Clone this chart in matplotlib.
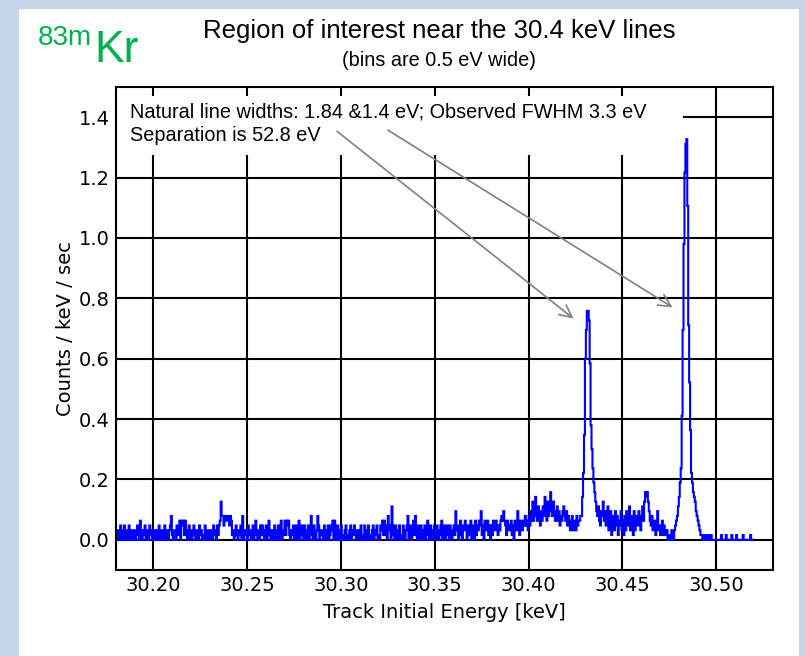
import numpy as np
import matplotlib
matplotlib.use("Agg")
import matplotlib.pyplot as plt
from matplotlib.patches import Rectangle

# histogram of track energies: counts per 0.5 eV bin starting at 30.180 keV
bin_start = 30.180
bin_width = 0.0005          # keV
rate_per_count = 0.0158     # counts/keV/sec for one count in a bin

counts = [
    1, 0, 2, 1, 0, 3, 1, 0, 2, 3, 0, 1, 2, 0, 3, 1, 0, 2, 1, 0,
    2, 0, 1, 3, 1, 0, 4, 1, 0, 2, 1, 3, 0, 1, 2, 0, 3, 1, 2, 0,
    1, 0, 2, 1, 0, 2, 3, 0, 1, 2, 0, 1, 3, 0, 2, 1, 0, 2, 3, 5,
    1, 0, 2, 1, 0, 3, 1, 2, 4, 0, 4, 3, 4, 1, 4, 2, 0, 1, 3, 0,
    2, 0, 1, 3, 1, 0, 2, 1, 0, 3, 1, 2, 0, 1, 0, 3, 1, 0, 2, 1,
    0, 2, 1, 0, 3, 1, 2, 0, 3, 1, 3, 4, 8, 5, 5, 3, 5, 5, 4, 5,
    5, 3, 5, 4, 1, 2, 0, 1, 3, 1, 0, 2, 1, 3, 0, 5, 0, 1, 2, 1,
    0, 3, 1, 2, 0, 1, 3, 0, 2, 4, 1, 0, 2, 0, 3, 1, 3, 1, 0, 2,
    3, 0, 1, 4, 1, 0, 2, 1, 0, 3, 2, 0, 1, 3, 0, 1, 4, 0, 2, 1,
    4, 1, 4, 3, 4, 1, 0, 2, 1, 3, 0, 1, 3, 0, 2, 4, 0, 1, 3, 1,
    0, 3, 1, 0, 2, 3, 0, 1, 5, 2, 0, 3, 1, 0, 2, 5, 3, 0, 1, 2,
    1, 0, 3, 1, 0, 2, 3, 0, 1, 3, 2, 4, 0, 4, 1, 0, 3, 1, 0, 2,
    3, 0, 1, 0, 2, 3, 0, 1, 0, 2, 3, 0, 2, 1, 3, 1, 0, 2, 1, 0,
    2, 3, 0, 1, 0, 3, 1, 0, 2, 3, 0, 1, 0, 2, 3, 0, 1, 2, 3, 0,
    1, 0, 3, 2, 4, 1, 4, 3, 1, 0, 5, 2, 3, 0, 7, 3, 1, 0, 3, 1,
    0, 2, 3, 0, 1, 0, 3, 1, 0, 2, 3, 5, 0, 1, 3, 0, 2, 4, 1, 5,
    1, 0, 3, 2, 0, 3, 1, 0, 2, 3, 0, 1, 4, 2, 0, 3, 1, 0, 2, 3,
    1, 0, 3, 2, 0, 1, 3, 4, 0, 2, 3, 0, 1, 3, 2, 0, 3, 1, 0, 2,
    3, 1, 6, 2, 3, 0, 2, 4, 1, 0, 3, 2, 4, 3, 0, 2, 3, 1, 4, 0,
    2, 3, 0, 4, 1, 3, 2, 4, 3, 6, 1, 3, 0, 4, 2, 3, 4, 1, 3, 0,
    3, 1, 4, 3, 2, 4, 3, 1, 3, 2, 4, 5, 4, 6, 4, 3, 1, 4, 3, 2,
    3, 4, 1, 3, 0, 4, 3, 2, 6, 3, 1, 4, 3, 2, 4, 3, 5, 3, 4, 2,
    5, 3, 6, 4, 8, 4, 5, 9, 6, 4, 7, 5, 3, 6, 4, 7, 5, 9, 6, 4,
    8, 5, 7, 10, 6, 5, 8, 6, 4, 5, 7, 4, 6, 3, 5, 4, 6, 7, 5, 4,
    6, 3, 5, 4, 2, 3, 5, 2, 4, 3, 2, 5, 3, 4, 4, 5, 5, 9, 14, 22,
    38, 44, 48, 48, 46, 37, 24, 19, 15, 12, 10, 8, 6, 5, 7, 4, 3, 6, 5, 8,
    4, 6, 3, 5, 7, 2, 4, 6, 1, 5, 4, 2, 6, 3, 5, 1, 4, 3, 6, 2,
    4, 1, 5, 2, 6, 4, 3, 7, 2, 4, 5, 1, 6, 2, 4, 5, 3, 6, 4, 2,
    5, 7, 4, 8, 10, 9, 10, 8, 6, 4, 3, 5, 2, 4, 3, 1, 4, 6, 2, 3,
    1, 2, 4, 1, 3, 2, 1, 2, 0, 1, 1, 0, 2, 1, 0, 2, 3, 4, 5, 7,
    9, 12, 15, 26, 44, 62, 77, 83, 84, 70, 45, 33, 23, 14, 12, 10, 9, 8, 6, 5,
    4, 3, 2, 1, 1, 0, 1, 1, 0, 1, 0, 1, 1, 0, 1, 0, 0, 0, 0, 0,
    0, 0, 0, 0, 0, 1, 0, 0, 0, 0, 1, 0, 0, 0, 0, 0, 1, 0, 0, 0,
    0, 1, 0, 0, 0, 0, 0, 0, 1, 0, 0, 0, 0, 0, 0, 0, 1, 0, 0, 0,
]

x_ticks = [30.20, 30.25, 30.30, 30.35, 30.40, 30.45, 30.50]
y_ticks = [0.0, 0.2, 0.4, 0.6, 0.8, 1.0, 1.2, 1.4]

note_lines = ["Natural line widths: 1.84 &1.4 eV; Observed FWHM 3.3 eV",
              "Separation is 52.8 eV"]
# arrows from the note to the two lines: (start, tip) in data units
arrow_a = ((30.298, 1.353), (30.4239, 0.733))
arrow_b = ((30.3251, 1.357), (30.4767, 0.770))

rate = np.array(counts) * rate_per_count
edges = bin_start + bin_width * np.arange(len(counts) + 1)

fig = plt.figure(figsize=(8.05, 6.56), dpi=100)
# slide frame
frame_col = "#c5d5ea"
fig.patches.append(Rectangle((0, 0), 19 / 805, 1, transform=fig.transFigure,
                             facecolor=frame_col, edgecolor="none"))
fig.patches.append(Rectangle((0, 1 - 9 / 656), 1, 9 / 656, transform=fig.transFigure,
                             facecolor=frame_col, edgecolor="none"))
fig.patches.append(Rectangle((1 - 6 / 805, 0), 6 / 805, 1, transform=fig.transFigure,
                             facecolor=frame_col, edgecolor="none"))

ax = fig.add_axes([115.5 / 805, 86 / 656, 657.2 / 805, 483 / 656])
ax.set_axisbelow(True)
ax.stairs(rate, edges, color="#0000ff", lw=1.5, zorder=2)

ax.set_xlim(30.18, 30.53)
ax.set_ylim(-0.1, 1.5)
ax.set_xticks(x_ticks)
ax.set_xticklabels([f"{v:.2f}" for v in x_ticks])
ax.set_yticks(y_ticks)
ax.set_yticklabels([f"{v:.1f}" for v in y_ticks])
ax.tick_params(length=0, labelsize=14, pad=4)
ax.grid(True, color="black", lw=1.5)
for sp in ax.spines.values():
    sp.set_linewidth(1.5)
    sp.set_zorder(5)

ax.set_xlabel("Track Initial Energy [keV]", fontsize=14, labelpad=6)
ax.set_ylabel("Counts / keV / sec", fontsize=14, labelpad=3)

# white note box over the top-left of the grid
ax.add_patch(Rectangle((0.002, 0.859), 0.861, 0.122, transform=ax.transAxes,
                       facecolor="white", edgecolor="none", zorder=1))
for i, line in enumerate(note_lines):
    ax.text(0.0222, 0.948 - i * 0.048, line, transform=ax.transAxes,
            fontsize=14.3, family="Liberation Sans", va="center", zorder=3)

for start, tip in (arrow_a, arrow_b):
    ax.annotate("", xy=tip, xytext=start,
                arrowprops=dict(arrowstyle="->", color="#808080", lw=1.2,
                                mutation_scale=22, shrinkA=0, shrinkB=0),
                zorder=4)

fig.text(439 / 805, 1 - 31 / 656, "Region of interest near the 30.4 keV lines",
         fontsize=18.5, family="Liberation Sans", ha="center", va="center")
fig.text(439 / 805, 1 - 60 / 656, "(bins are 0.5 eV wide)",
         fontsize=14.3, family="Liberation Sans", ha="center", va="center")

green = "#00b050"
fig.text(38 / 805, 1 - 45 / 656, "83m", fontsize=20, color=green,
         family="Liberation Sans", ha="left", va="baseline")
fig.text(94 / 805, 1 - 62 / 656, "Kr", fontsize=32, color=green,
         family="Liberation Sans", ha="left", va="baseline")

fig.savefig("out.png", dpi=100)
